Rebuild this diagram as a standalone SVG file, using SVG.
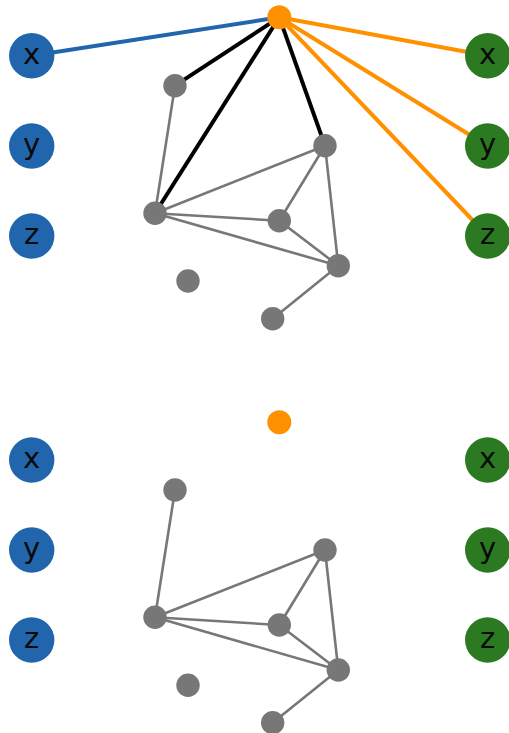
<svg xmlns="http://www.w3.org/2000/svg" width="509" height="733" viewBox="0 0 509 733">
<style>
.bg{fill:#ffffff}
.e{stroke:#777777;stroke-width:2.6;fill:none}
.k{stroke:#000000;stroke-width:4;fill:none}
.o{stroke:#ff9100;stroke-width:4;fill:none}
.b{stroke:#2166ac;stroke-width:4;fill:none}
.n{fill:#777777}
.or{fill:#ff9100}
.bl{fill:#2166ac}
.gr{fill:#2b7a22}
.t{font-family:"DejaVu Sans",sans-serif;font-size:29px;fill:#0a0a0a;text-anchor:middle}
</style>
<rect class="bg" x="0" y="0" width="509" height="733"/>
<g id="connectors">
  <line class="b" x1="31.7" y1="55.7" x2="279.3" y2="17.3"/>
  <line class="o" x1="279.3" y1="17.3" x2="487.7" y2="55.7"/>
  <line class="o" x1="279.3" y1="17.3" x2="487.7" y2="146"/>
  <line class="o" x1="279.3" y1="17.3" x2="487.7" y2="236"/>
  <line class="k" x1="279.3" y1="17.3" x2="175" y2="85.7"/>
  <line class="k" x1="279.3" y1="17.3" x2="155" y2="213.3"/>
  <line class="k" x1="279.3" y1="17.3" x2="325" y2="145.7"/>
  <line class="e" x1="175" y1="85.7" x2="155" y2="213.3"/>
  <line class="e" x1="155" y1="213.3" x2="325" y2="145.7"/>
  <line class="e" x1="155" y1="213.3" x2="279.3" y2="220.7"/>
  <line class="e" x1="155" y1="213.3" x2="338.3" y2="265.7"/>
  <line class="e" x1="325" y1="145.7" x2="279.3" y2="220.7"/>
  <line class="e" x1="325" y1="145.7" x2="338.3" y2="265.7"/>
  <line class="e" x1="279.3" y1="220.7" x2="338.3" y2="265.7"/>
  <line class="e" x1="338.3" y1="265.7" x2="272.7" y2="318.7"/>
  <line class="e" x1="175" y1="490" x2="155" y2="617.3"/>
  <line class="e" x1="155" y1="617.3" x2="325" y2="550"/>
  <line class="e" x1="155" y1="617.3" x2="279.3" y2="625"/>
  <line class="e" x1="155" y1="617.3" x2="338.3" y2="670"/>
  <line class="e" x1="325" y1="550" x2="279.3" y2="625"/>
  <line class="e" x1="325" y1="550" x2="338.3" y2="670"/>
  <line class="e" x1="279.3" y1="625" x2="338.3" y2="670"/>
  <line class="e" x1="338.3" y1="670" x2="272.7" y2="722.7"/>
</g>
<g id="top-in-x"><circle class="bl" cx="31.7" cy="55.7" r="22.7"/><text class="t" x="31.7" y="63.8">x</text></g>
<g id="top-in-y"><circle class="bl" cx="31.7" cy="146" r="22.7"/><text class="t" x="31.7" y="154.1">y</text></g>
<g id="top-in-z"><circle class="bl" cx="31.7" cy="236" r="22.7"/><text class="t" x="31.7" y="244.1">z</text></g>
<g id="top-out-x"><circle class="gr" cx="487.7" cy="55.7" r="22.7"/><text class="t" x="487.7" y="63.8">x</text></g>
<g id="top-out-y"><circle class="gr" cx="487.7" cy="146" r="22.7"/><text class="t" x="487.7" y="154.1">y</text></g>
<g id="top-out-z"><circle class="gr" cx="487.7" cy="236" r="22.7"/><text class="t" x="487.7" y="244.1">z</text></g>
<g id="top-hub"><circle class="or" cx="279.3" cy="17.3" r="12"/></g>
<g id="top-a"><circle class="n" cx="175" cy="85.7" r="11.7"/></g>
<g id="top-b"><circle class="n" cx="155" cy="213.3" r="11.7"/></g>
<g id="top-c"><circle class="n" cx="325" cy="145.7" r="11.7"/></g>
<g id="top-d"><circle class="n" cx="279.3" cy="220.7" r="11.7"/></g>
<g id="top-e"><circle class="n" cx="338.3" cy="265.7" r="11.7"/></g>
<g id="top-f"><circle class="n" cx="188" cy="281" r="11.7"/></g>
<g id="top-g"><circle class="n" cx="272.7" cy="318.7" r="11.7"/></g>
<g id="bot-in-x"><circle class="bl" cx="31.7" cy="460" r="22.7"/><text class="t" x="31.7" y="468.1">x</text></g>
<g id="bot-in-y"><circle class="bl" cx="31.7" cy="550" r="22.7"/><text class="t" x="31.7" y="558.1">y</text></g>
<g id="bot-in-z"><circle class="bl" cx="31.7" cy="640" r="22.7"/><text class="t" x="31.7" y="648.1">z</text></g>
<g id="bot-out-x"><circle class="gr" cx="487.7" cy="460" r="22.7"/><text class="t" x="487.7" y="468.1">x</text></g>
<g id="bot-out-y"><circle class="gr" cx="487.7" cy="550" r="22.7"/><text class="t" x="487.7" y="558.1">y</text></g>
<g id="bot-out-z"><circle class="gr" cx="487.7" cy="640" r="22.7"/><text class="t" x="487.7" y="648.1">z</text></g>
<g id="bot-hub"><circle class="or" cx="279.3" cy="422.3" r="12"/></g>
<g id="bot-a"><circle class="n" cx="175" cy="490" r="11.7"/></g>
<g id="bot-b"><circle class="n" cx="155" cy="617.3" r="11.7"/></g>
<g id="bot-c"><circle class="n" cx="325" cy="550" r="11.7"/></g>
<g id="bot-d"><circle class="n" cx="279.3" cy="625" r="11.7"/></g>
<g id="bot-e"><circle class="n" cx="338.3" cy="670" r="11.7"/></g>
<g id="bot-f"><circle class="n" cx="188" cy="685.3" r="11.7"/></g>
<g id="bot-g"><circle class="n" cx="272.7" cy="722.7" r="11.7"/></g>
</svg>
